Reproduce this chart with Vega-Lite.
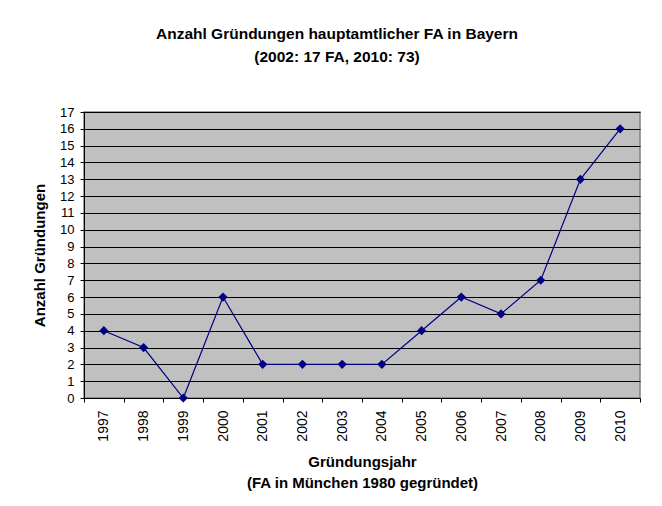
{
  "$schema": "https://vega.github.io/schema/vega-lite/v6.json",
  "width": 556,
  "height": 286,
  "autosize": {"type": "none"},
  "padding": {"left": 84, "top": 112, "right": 22, "bottom": 108},
  "background": "white",
  "config": {
    "font": "Liberation Sans",
    "view": {"fill": "#C0C0C0", "stroke": "#808080", "strokeWidth": 1.5},
    "axis": {
      "domainColor": "black",
      "tickColor": "black",
      "labelColor": "black",
      "titleColor": "black",
      "labelFont": "Liberation Sans",
      "titleFont": "Liberation Sans",
      "labelFontSize": 13,
      "titleFontSize": 15,
      "titleFontWeight": "bold",
      "tickSize": 4
    }
  },
  "title": {
    "text": ["Anzahl Gründungen hauptamtlicher FA in Bayern", "(2002: 17 FA, 2010: 73)"],
    "font": "Liberation Sans",
    "fontSize": 15.5,
    "fontWeight": "bold",
    "color": "black",
    "anchor": "middle",
    "frame": "group",
    "dx": -25,
    "lineHeight": 23,
    "offset": 41
  },
  "data": {
    "values": [
      {"year": "1997", "count": 4},
      {"year": "1998", "count": 3},
      {"year": "1999", "count": 0},
      {"year": "2000", "count": 6},
      {"year": "2001", "count": 2},
      {"year": "2002", "count": 2},
      {"year": "2003", "count": 2},
      {"year": "2004", "count": 2},
      {"year": "2005", "count": 4},
      {"year": "2006", "count": 6},
      {"year": "2007", "count": 5},
      {"year": "2008", "count": 7},
      {"year": "2009", "count": 13},
      {"year": "2010", "count": 16}
    ]
  },
  "encoding": {
    "x": {
      "field": "year",
      "type": "nominal",
      "sort": null,
      "scale": {"type": "band", "paddingInner": 0, "paddingOuter": 0},
      "axis": {
        "title": ["Gründungsjahr", "(FA in München 1980 gegründet)"],
        "titleLineHeight": 21,
        "titlePadding": 13,
        "labelAngle": 270,
        "labelAlign": "right",
        "labelBaseline": "middle",
        "labelFontSize": 14,
        "labelPadding": 8,
        "tickBand": "extent",
        "grid": false
      }
    },
    "y": {
      "field": "count",
      "type": "quantitative",
      "scale": {"domain": [0, 17], "nice": false, "zero": true},
      "axis": {
        "title": "Anzahl Gründungen",
        "values": [0,1,2,3,4,5,6,7,8,9,10,11,12,13,14,15,16,17],
        "grid": true,
        "gridColor": "black",
        "gridOpacity": 1,
        "gridWidth": 1,
        "labelPadding": 6,
        "titlePadding": 12
      }
    }
  },
  "layer": [
    {"mark": {"type": "line", "color": "#000080", "strokeWidth": 1.2}},
    {"mark": {"type": "point", "shape": "diamond", "filled": true, "color": "#000080", "opacity": 1, "size": 85}}
  ]
}
